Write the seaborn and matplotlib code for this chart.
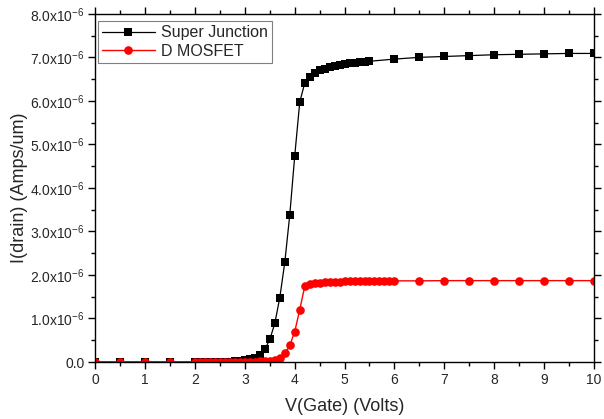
import numpy as np
import pandas as pd
import matplotlib
matplotlib.use('Agg')
import matplotlib.pyplot as plt
import seaborn as sns
from matplotlib.ticker import MultipleLocator, FixedLocator

# gate voltage (V)
vg_sj = [0.0, 0.5, 1.0, 1.5,
         2.0, 2.1, 2.2, 2.3, 2.4, 2.5, 2.6, 2.7, 2.8, 2.9,
         3.0, 3.1, 3.2, 3.3, 3.4, 3.5, 3.6, 3.7, 3.8, 3.9,
         4.0, 4.1, 4.2, 4.3, 4.4, 4.5, 4.6, 4.7, 4.8, 4.9,
         5.0, 5.1, 5.2, 5.3, 5.4, 5.5,
         6.0, 6.5, 7.0, 7.5, 8.0, 8.5, 9.0, 9.5, 10.0]
# drain current, units of 1e-6 A/um
id_sj = [0.0, 0.0, 0.0, 0.0,
         0.0, 0.0, 0.001, 0.001, 0.002, 0.003, 0.005, 0.008, 0.013, 0.022,
         0.037, 0.06, 0.10, 0.17, 0.29, 0.52, 0.89, 1.48, 2.29, 3.38,
         4.74, 5.97, 6.41, 6.56, 6.64, 6.70, 6.74, 6.78, 6.81, 6.83,
         6.85, 6.87, 6.88, 6.89, 6.90, 6.91,
         6.96, 7.00, 7.02, 7.04, 7.06, 7.07, 7.08, 7.09, 7.09]

vg_dm = [0.0, 0.5, 1.0, 1.5,
         2.0, 2.1, 2.2, 2.3, 2.4, 2.5, 2.6, 2.7, 2.8, 2.9,
         3.0, 3.1, 3.2, 3.3, 3.4, 3.5, 3.6, 3.7, 3.8, 3.9,
         4.0, 4.1, 4.2, 4.3, 4.4, 4.5, 4.6, 4.7, 4.8, 4.9,
         5.0, 5.1, 5.2, 5.3, 5.4, 5.5, 5.6, 5.7, 5.8, 5.9,
         6.0, 6.5, 7.0, 7.5, 8.0, 8.5, 9.0, 9.5, 10.0]
id_dm = [0.0, 0.0, 0.0, 0.0,
         0.0, 0.0, 0.0, 0.0, 0.001, 0.001, 0.001, 0.002, 0.003, 0.004,
         0.005, 0.007, 0.010, 0.014, 0.02, 0.03, 0.05, 0.09, 0.20, 0.38,
         0.70, 1.20, 1.74, 1.79, 1.81, 1.82, 1.83, 1.835, 1.84, 1.845,
         1.85, 1.85, 1.855, 1.855, 1.86, 1.86, 1.86, 1.86, 1.865, 1.865,
         1.865, 1.865, 1.87, 1.87, 1.87, 1.87, 1.87, 1.87, 1.87]

ytick_vals = [0, 1, 2, 3, 4, 5, 6, 7, 8]
ytick_labels = ['0.0'] + [r'%.1fx10$^{\mathrm{-6}}$' % v for v in ytick_vals[1:]]

sns.set_style('ticks')
plt.rcParams['font.family'] = ['Liberation Sans', 'DejaVu Sans']
plt.rcParams['mathtext.fontset'] = 'custom'
plt.rcParams['mathtext.rm'] = 'Liberation Sans'
plt.rcParams['mathtext.default'] = 'rm'

fig = plt.figure(figsize=(6.04, 4.19), dpi=100)
ax = fig.add_axes([0.158, 0.136, 0.825, 0.831])

df_sj = pd.DataFrame({'vg': vg_sj, 'id': np.array(id_sj) * 1e-6})
df_dm = pd.DataFrame({'vg': vg_dm, 'id': np.array(id_dm) * 1e-6})

sns.lineplot(data=df_sj, x='vg', y='id', ax=ax, color='black', lw=0.9,
             marker='s', markersize=5.4, markeredgewidth=0,
             label='Super Junction', sort=False)
sns.lineplot(data=df_dm, x='vg', y='id', ax=ax, color='#ff0000', lw=1.0,
             marker='o', markersize=6.2, markeredgewidth=0,
             label='D MOSFET', sort=False)

ax.set_xlim(0, 10)
ax.set_ylim(0, 8e-6)
ax.xaxis.set_major_locator(MultipleLocator(1))
ax.xaxis.set_minor_locator(MultipleLocator(0.5))
ax.yaxis.set_major_locator(FixedLocator([v * 1e-6 for v in ytick_vals]))
ax.yaxis.set_minor_locator(MultipleLocator(0.5e-6))
ax.set_yticklabels(ytick_labels)

for s in ax.spines.values():
    s.set_linewidth(1.0)
    s.set_color('black')
ax.tick_params(which='both', direction='out', top=True, right=True,
               labeltop=False, labelright=False, width=1.0, color='black')
ax.tick_params(which='major', length=5, labelsize=10, pad=3)
ax.tick_params(which='minor', length=3)

ax.set_xlabel('V(Gate) (Volts)', fontsize=13, labelpad=8)
ax.set_ylabel('I(drain) (Amps/um)', fontsize=13, labelpad=1)

leg = ax.legend(loc='upper left', bbox_to_anchor=(0.005, 0.978),
                fontsize=11.5, frameon=True, fancybox=False,
                edgecolor='#808080', framealpha=1, borderpad=0.25,
                handlelength=3.3, handletextpad=0.4, labelspacing=0.2,
                borderaxespad=0)
leg.get_frame().set_linewidth(0.8)

fig.savefig('out.png', dpi=100)
